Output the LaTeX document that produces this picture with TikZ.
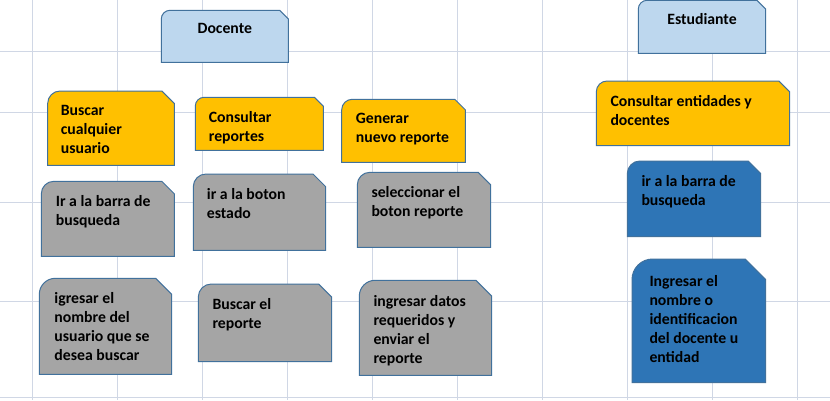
\documentclass[tikz,border=0pt]{standalone}
\usepackage{fontspec}
\setmainfont{Carlito}
\definecolor{gridc}{HTML}{D0D7E5}
\definecolor{edgec}{HTML}{41719C}
\definecolor{lblue}{HTML}{BDD7EE}
\definecolor{orng}{HTML}{FFC000}
\definecolor{gry}{HTML}{A5A5A5}
\definecolor{dblue}{HTML}{2E75B6}
\tikzset{
  gridline/.style={draw=gridc, line width=1bp},
  boxline/.style={draw=edgec, line width=1bp},
  txt/.style={font=\fontsize{15.8}{19}\selectfont\bfseries, align=left, inner sep=0pt, anchor=north west, yshift=7bp, text=black},
  ctxt/.style={txt, align=center, anchor=north},
}
% #1 x1, #2 y1, #3 x2, #4 y2, #5 corner size, #6 fill
\newcommand\snipshape[6]{%
  \path[boxline, fill=#6] (#1,#4) [rounded corners=#5bp] -- (#1,#2) [sharp corners] -- ({#3-#5},#2) -- (#3,{#2+#5}) -- (#3,#4) -- cycle;}
\begin{document}
\begin{tikzpicture}[x=1bp,y=-1bp]
\useasboundingbox (0,0) rectangle (830,400);
\fill[white] (0,0) rectangle (830,400);
% grid
\foreach \gx in {32.3,117.3,202.3,287.3,372.3,457.3,542.3,627.3,712.3,797.3}
  \draw[gridline] (\gx,0) -- (\gx,400);
\foreach \gy in {51.7,112.3,202.3,301,397.7}
  \draw[gridline] (0,\gy) -- (830,\gy);
% headers
\snipshape{161.3}{10.3}{288.3}{62.3}{8.7}{lblue}
\node[ctxt] (docente) at (224.8,27) {\strut Docente};
\snipshape{638.3}{0.3}{765.7}{53.3}{8.8}{lblue}
\node[ctxt] (estudiante) at (702,17.7) {\strut Estudiante};
% orange row
\snipshape{47.7}{91}{174.3}{165.3}{12.4}{orng}
\node[txt] (buscar) at (60.7,109) {\strut Buscar\\cualquier\\usuario};
\snipshape{195.3}{97.3}{323.3}{150.3}{8.8}{orng}
\node[txt] (consultar) at (208.7,115.7) {\strut Consultar\\reportes};
\snipshape{341.7}{99.3}{465.3}{162.3}{10.5}{orng}
\node[txt] (generar) at (355.7,117) {\strut Generar\\nuevo reporte};
\snipshape{596.3}{81}{789.7}{145.7}{10.8}{orng}
\node[txt] (consultarent) at (610.3,100) {\strut Consultar entidades y\\docentes};
% second row
\snipshape{41.3}{181.3}{174.3}{256.3}{12.5}{gry}
\node[txt] (barra) at (55.7,200.3) {\strut Ir a la barra de\\busqueda};
\snipshape{193.3}{174}{325.7}{250.3}{12.7}{gry}
\node[txt] (boton) at (206.7,193.3) {\strut ir a la boton\\estado};
\snipshape{357.3}{172.3}{490.7}{247.3}{12.5}{gry}
\node[txt] (seleccionar) at (371.3,190.7) {\strut seleccionar el\\boton reporte};
\snipshape{627.3}{161}{760.7}{236.7}{12.6}{dblue}
\node[txt] (barraest) at (641.3,180) {\strut ir a la barra de\\busqueda};
% third row
\snipshape{39.3}{278.3}{171.7}{374.3}{16}{gry}
\node[txt] (igresar) at (54.3,297.3) {\strut igresar el\\nombre del\\usuario que se\\desea buscar};
\snipshape{198.3}{284}{331.7}{361.7}{13}{gry}
\node[txt] (buscarrep) at (212.3,303) {\strut Buscar el\\reporte};
\snipshape{359.3}{280.3}{491.7}{375.3}{15.8}{gry}
\node[txt] (ingresardatos) at (373.3,300) {\strut ingresar datos\\requeridos y\\enviar el\\reporte};
\snipshape{632}{259}{765.7}{382.7}{20.6}{dblue}
\node[txt] (ingresarnom) at (649.3,280) {\strut Ingresar el\\nombre o\\identificacion\\del docente u\\entidad};
\end{tikzpicture}
\end{document}
